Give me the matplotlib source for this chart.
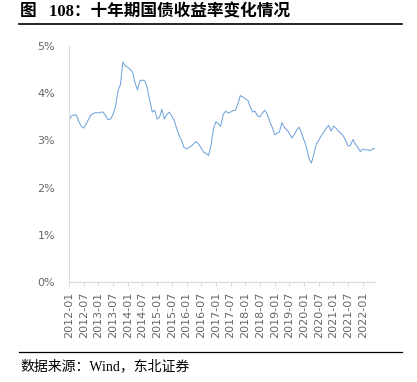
import pandas as pd
import matplotlib
matplotlib.use('Agg')
from matplotlib import pyplot as plt
import matplotlib.dates as mdates
from matplotlib.lines import Line2D
from matplotlib.ticker import FuncFormatter

# monthly 10y CGB yield (%), 2012-01 .. 2022-06
START = '2012-01-01'
y2012 = [3.42, 3.52, 3.54, 3.54, 3.40, 3.30, 3.26, 3.35, 3.45, 3.54, 3.57, 3.59]
y2013 = [3.58, 3.60, 3.60, 3.52, 3.44, 3.45, 3.55, 3.72, 4.05, 4.18, 4.66, 4.58]
y2014 = [4.55, 4.50, 4.45, 4.22, 4.07, 4.26, 4.28, 4.26, 4.10, 3.85, 3.60, 3.64]
y2015 = [3.45, 3.50, 3.66, 3.45, 3.55, 3.60, 3.52, 3.42, 3.25, 3.10, 3.00, 2.85]
y2016 = [2.82, 2.85, 2.88, 2.93, 2.98, 2.92, 2.84, 2.75, 2.72, 2.68, 2.90, 3.25]
y2017 = [3.40, 3.35, 3.30, 3.55, 3.62, 3.58, 3.60, 3.63, 3.64, 3.78, 3.95, 3.92]
y2018 = [3.88, 3.85, 3.72, 3.60, 3.62, 3.52, 3.50, 3.58, 3.64, 3.55, 3.40, 3.28]
y2019 = [3.12, 3.15, 3.18, 3.38, 3.28, 3.22, 3.16, 3.05, 3.12, 3.22, 3.28, 3.15]
y2020 = [3.00, 2.85, 2.62, 2.52, 2.70, 2.92, 3.00, 3.10, 3.18, 3.25, 3.32, 3.20]
y2021 = [3.30, 3.26, 3.20, 3.15, 3.10, 3.00, 2.88, 2.90, 3.02, 2.92, 2.85, 2.76]
y2022 = [2.82, 2.80, 2.80, 2.78, 2.82, 2.83]

yields = y2012 + y2013 + y2014 + y2015 + y2016 + y2017 + y2018 + y2019 + y2020 + y2021 + y2022
dates = pd.date_range(START, periods=len(yields), freq='MS')

TITLE = '图   108：十年期国债收益率变化情况'
SOURCE = '数据来源：Wind，东北证券'

W, H = 417, 382
fig = plt.figure(figsize=(W / 100, H / 100), dpi=100)
ax = fig.add_axes([69 / W, 1 - 282 / H, (375 - 69) / W, (282 - 46) / H])

ax.plot(dates, yields, color='#6A9FD8', lw=0.7)

ax.set_ylim(0, 5)
ax.set_yticks([0, 1, 2, 3, 4, 5])
ax.yaxis.set_major_formatter(FuncFormatter(lambda v, p: '%d%%' % v))
ax.set_xlim(dates[0], dates[-1])
ax.xaxis.set_major_locator(mdates.MonthLocator(bymonth=[1, 7]))
ax.xaxis.set_major_formatter(mdates.DateFormatter('%Y-%m'))

for s in ['top', 'right']:
    ax.spines[s].set_visible(False)
for s in ['left', 'bottom']:
    ax.spines[s].set_color('#d9d9d9')
    ax.spines[s].set_linewidth(0.8)

ax.tick_params(axis='y', length=0, pad=10, labelsize=8, labelcolor='#666666')
ax.tick_params(axis='x', length=3, color='#d9d9d9', pad=4, labelsize=8,
               labelcolor='#666666', labelrotation=90)

# title / source block
fig.text(20 / W, 1 - 12 / H, TITLE, fontsize=12, fontweight='bold', va='center', ha='left',
         family=['Liberation Serif', 'Noto Sans CJK SC'])
fig.add_artist(Line2D([19 / W, 402 / W], [1 - 24 / H] * 2, color='black', lw=1.2))
fig.add_artist(Line2D([19 / W, 402 / W], [1 - 352 / H] * 2, color='black', lw=0.9))
fig.text(20 / W, 1 - 366 / H, SOURCE, fontsize=10, va='center', ha='left',
         family=['Liberation Serif', 'Noto Sans CJK SC'])

fig.savefig('out.png', dpi=100)
